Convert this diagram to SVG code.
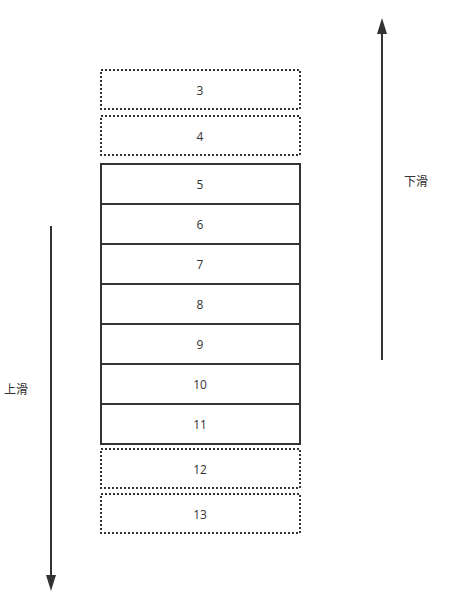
<svg xmlns="http://www.w3.org/2000/svg" width="459" height="610" viewBox="0 0 459 610">
<style>
.box{fill:#fff;stroke:#333;stroke-width:2}
.dot{fill:#fff;stroke:#333;stroke-width:2;stroke-dasharray:2 2}
.t{font-family:"Open Sans","Noto Sans CJK SC",sans-serif;font-size:12px;fill:#333;text-anchor:middle;dominant-baseline:central}
.l{font-family:"Noto Sans CJK SC",sans-serif;font-size:12px;fill:#333}
.ln{stroke:#333;stroke-width:2;fill:none}
</style>
<defs>
<marker id="ah" markerWidth="10" markerHeight="10" viewBox="0 0 10 10" refX="9" refY="5" orient="auto" markerUnits="userSpaceOnUse">
<path d="M0,0 L10,5 L0,10 Z" fill="#333"/>
</marker>
</defs>
<rect width="459" height="610" fill="#fff"/>
<g id="n3"><rect class="dot" x="101" y="70" width="199" height="39"/><text class="t" x="200" y="90">3</text></g>
<g id="n4"><rect class="dot" x="101" y="116" width="199" height="39"/><text class="t" x="200" y="136">4</text></g>
<g id="n5"><rect class="box" x="101" y="164" width="199" height="40"/><text class="t" x="200" y="184">5</text></g>
<g id="n6"><rect class="box" x="101" y="204" width="199" height="40"/><text class="t" x="200" y="224">6</text></g>
<g id="n7"><rect class="box" x="101" y="244" width="199" height="40"/><text class="t" x="200" y="264">7</text></g>
<g id="n8"><rect class="box" x="101" y="284" width="199" height="40"/><text class="t" x="200" y="304">8</text></g>
<g id="n9"><rect class="box" x="101" y="324" width="199" height="40"/><text class="t" x="200" y="344">9</text></g>
<g id="n10"><rect class="box" x="101" y="364" width="199" height="40"/><text class="t" x="200" y="384">10</text></g>
<g id="n11"><rect class="box" x="101" y="404" width="199" height="40"/><text class="t" x="200" y="424">11</text></g>
<g id="n12"><rect class="dot" x="101" y="449" width="199" height="39"/><text class="t" x="200" y="469">12</text></g>
<g id="n13"><rect class="dot" x="101" y="494" width="199" height="39"/><text class="t" x="200" y="514">13</text></g>
<g id="connectors">
<line class="ln" x1="51" y1="226" x2="51" y2="580"/>
<path d="M46,575 L51,591 L56,575 Z" fill="#333"/>
<line class="ln" x1="382" y1="360" x2="382" y2="30"/>
<path d="M377,34 L382,18 L387,34 Z" fill="#333"/>
</g>
<text class="l" x="404" y="186">下滑</text>
<text class="l" x="4" y="394">上滑</text>
</svg>
